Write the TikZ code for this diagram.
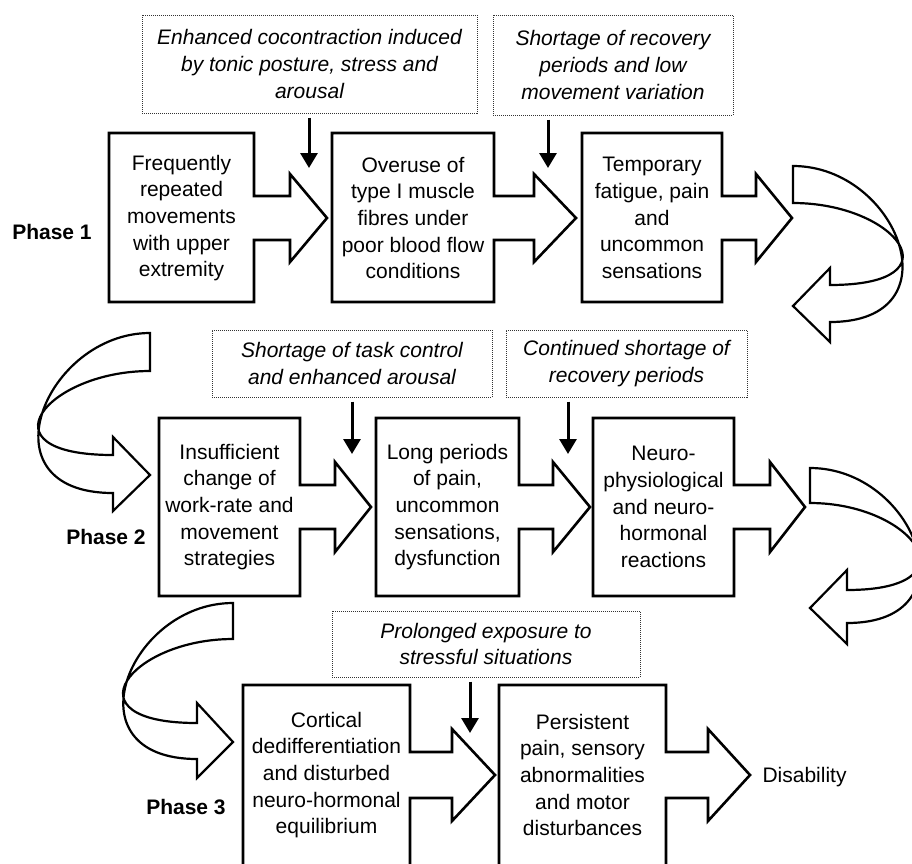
\documentclass[tikz,border=0pt]{standalone}
\usepackage{fontspec}
\setmainfont{Liberation Sans}
\usepackage{xcolor}
\usetikzlibrary{arrows.meta}

\begin{document}
\begin{tikzpicture}[x=1pt,y=-1pt,
    txt/.style={font=\fontsize{21}{26.7}\selectfont,align=center,inner sep=0pt},
    cond/.style={txt,font=\fontsize{21}{26.7}\selectfont\itshape,draw=black!80,densely dotted,line width=1pt},
    phase/.style={font=\fontsize{21}{26.7}\selectfont\bfseries,inner sep=0pt},
    blockarrow/.style={draw,line width=2.6pt,line join=miter},
    turn/.style={draw,fill=white,line width=2.2pt},
    push/.style={line width=3pt,-{Triangle[width=17pt,length=15pt]},shorten <=4pt}]
    \useasboundingbox (0,0) rectangle (912,863);
    \foreach \xl/\xr/\hb/\tp/\yt/\yb/\ym/\sh/\hh in {
        109/254/290/327/133/302/218/22/44,
        332/494/534/576/133/302/218/22/44,
        582/722/756/792/133/302/218/22/44,
        159/300/335/371/418/596/507/22/45,
        376/519/553/590/418/596/507/22/45,
        593/734/770/805/418/596/507/22/45,
        243/410/452/495/685/866/775/23/46,
        499/666/708/750/685/866/775/23/46}
        \draw[blockarrow] (\xr,\yt) -- (\xl,\yt) -- (\xl,\yb) -- (\xr,\yb) -- (\xr,\ym+\sh) -- (\hb,\ym+\sh)
            -- (\hb,\ym+\hh) -- (\tp,\ym) -- (\hb,\ym-\hh) -- (\hb,\ym-\sh) -- (\xr,\ym-\sh) -- cycle;
    \draw[turn] (793,166) .. controls (898,166) and (958,322) .. (830,322) -- (830,342) -- (793,306) -- (830,268)
        -- (830,285) .. controls (960,285) and (896,203) .. (793,203) -- cycle;
    \draw[turn] (150,333) .. controls (45,333) and (-20,493) .. (113,493) -- (113,511) -- (150,475) -- (113,437)
        -- (113,455) .. controls (-22,455) and (47,371) .. (150,371) -- cycle;
    \draw[turn] (810,468) .. controls (915,468) and (975,623) .. (847,623) -- (847,644) -- (810,608) -- (847,570)
        -- (847,590) .. controls (977,590) and (913,503) .. (810,503) -- cycle;
    \draw[turn] (233,603) .. controls (128,603) and (67,759) .. (197,759) -- (197,778) -- (233,742) -- (197,703)
        -- (197,723) .. controls (65,723) and (130,639) .. (233,639) -- cycle;
    \node[cond,minimum width=335pt,minimum height=98pt] (c11) at (309.5,64) {Enhanced cocontraction induced\\by tonic posture, stress and\\arousal};
    \node[cond,minimum width=240pt,minimum height=100pt] (c12) at (613,65) {Shortage of recovery\\periods and low\\movement variation};
    \node[cond,minimum width=280pt,minimum height=67pt] (c21) at (352,363.5) {Shortage of task control\\and enhanced arousal};
    \node[cond,minimum width=241pt,minimum height=67pt] (c22) at (626.5,363.5) {Continued shortage of\\recovery periods};
    \node[cond,minimum width=308pt,minimum height=66pt] (c31) at (486,644) {Prolonged exposure to\\stressful situations};
    \coordinate (d11) at (309,168);
    \coordinate (d12) at (548,168);
    \coordinate (d21) at (352,454);
    \coordinate (d22) at (568,454);
    \coordinate (d31) at (470,733);
    \draw[push] (c11.south -| d11) -- (d11);
    \draw[push] (c12.south -| d12) -- (d12);
    \draw[push] (c21.south -| d21) -- (d21);
    \draw[push] (c22.south -| d22) -- (d22);
    \draw[push] (c31.south -| d31) -- (d31);
    \node[txt] (b11) at (181.5,218) {Frequently\\repeated\\movements\\with upper\\extremity};
    \node[txt] (b12) at (413,218) {Overuse of\\type I muscle\\fibres under\\poor blood flow\\conditions};
    \node[txt] (b13) at (652,218) {Temporary\\fatigue, pain\\and\\uncommon\\sensations};
    \node[txt] (b21) at (229.5,507) {Insufficient\\change of\\work-rate and\\movement\\strategies};
    \node[txt] (b22) at (447.5,507) {Long periods\\of pain,\\uncommon\\sensations,\\dysfunction};
    \node[txt] (b23) at (663.5,507) {Neuro-\\physiological\\and neuro-\\hormonal\\reactions};
    \node[txt] (b31) at (326.5,775) {Cortical\\dedifferentiation\\and disturbed\\neuro-hormonal\\equilibrium};
    \node[txt] (b32) at (582.5,775) {Persistent\\pain, sensory\\abnormalities\\and motor\\disturbances};
    \node[txt] (dis) at (804.5,777) {Disability};
    \node[phase] (p1) at (52,232) {Phase 1};
    \node[phase] (p2) at (106,537) {Phase 2};
    \node[phase] (p3) at (186,807) {Phase 3};
\end{tikzpicture}
\end{document}
